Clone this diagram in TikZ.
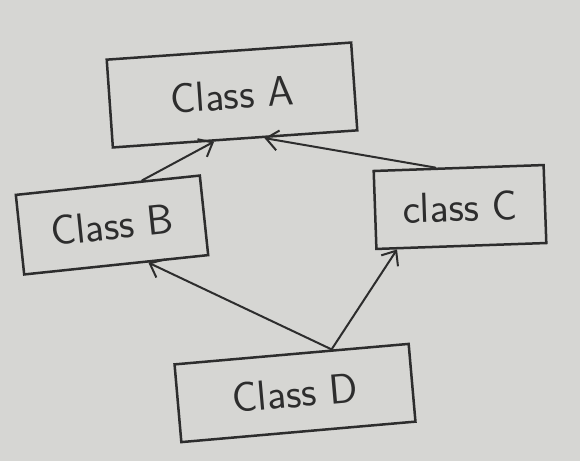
\documentclass[tikz,border=0pt]{standalone}
\usetikzlibrary{arrows.meta}
\definecolor{paper}{RGB}{214,214,211}
\definecolor{ink}{RGB}{45,45,45}
\tikzstyle{classbox} = [rectangle,
minimum height=80pt,
text centered,
draw=ink,
line width=2.5pt,
text=ink,
font=\sffamily\fontsize{42}{44}\selectfont]
\tikzstyle{inherit} = [-{Straight Barb[length=12pt,width=20pt,line width=2pt]}, draw=ink, line width=2pt, line cap=round]

\begin{document}
\begin{tikzpicture}[x=1pt, y=-1pt]
		\fill[paper] (0,0) rectangle (580,461);
		\useasboundingbox (0,0) rectangle (580,461);

		\node (clsa) [classbox, minimum width=245pt, minimum height=88pt, rotate=4] at (232,95) {Class A};
		\node (clsb) [classbox, minimum width=185pt, rotate=6] at (112,225) {Class B};
		\node (clsc) [classbox, minimum width=170pt, minimum height=78pt, rotate=2] at (460,207) {class C};
		\node (clsd) [classbox, minimum width=235pt, minimum height=78pt, rotate=5] at (295,393) {Class D};

		\draw [inherit](clsb.50) -- (clsa.245);
		\draw [inherit](clsc.120) -- (clsa.303);
		\draw [inherit](clsd.45) -- (clsb.308);
		\draw [inherit](clsd.45) -- (clsc.212);
	\end{tikzpicture}
\end{document}
